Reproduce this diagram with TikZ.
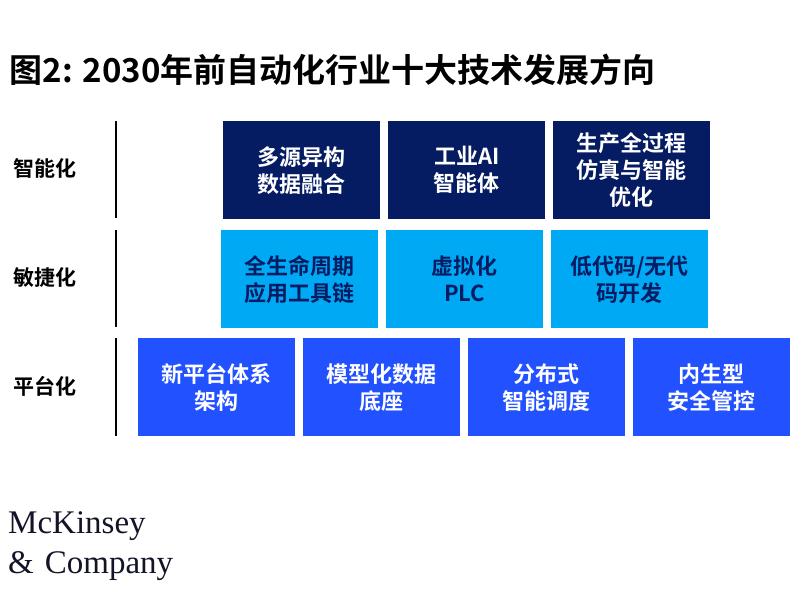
\documentclass[tikz,border=0pt]{standalone}
\usepackage{fontspec}
\setmainfont{Liberation Serif}
\newfontfamily\cjk{Noto Sans CJK SC}[BoldFont={Noto Sans CJK SC Bold}]
\begin{document}
\begin{tikzpicture}[x=1pt,y=-1pt,
  box/.style={minimum width=157pt,minimum height=98pt,inner sep=0pt,anchor=north west,align=center,font=\cjk\bfseries\fontsize{22}{27}\selectfont},
  navy/.style={box,fill={rgb,255:red,5;green,28;blue,99},text=white},
  sky/.style={box,fill={rgb,255:red,0;green,169;blue,244},text={rgb,255:red,5;green,28;blue,99}},
  blu/.style={box,fill={rgb,255:red,34;green,81;blue,255},text=white},
  lab/.style={font=\cjk\bfseries\fontsize{21}{25}\selectfont,anchor=west},
  bar/.style={line width=1.5pt,black}]
\useasboundingbox (0,0) rectangle (800,600);
\node[anchor=west,font=\cjk\bfseries\fontsize{33}{38}\selectfont] (title) at (6,70) {图2: 2030年前自动化行业十大技术发展方向};
\coordinate (a1) at (116,121); \coordinate (a2) at (116,218);
\coordinate (b1) at (116,230); \coordinate (b2) at (116,327);
\coordinate (c1) at (116,338); \coordinate (c2) at (116,436);
\draw[bar] (a1)--(a2); \draw[bar] (b1)--(b2); \draw[bar] (c1)--(c2);
\node[lab] (l1) at (10,168) {智能化};
\node[lab] (l2) at (10,278) {敏捷化};
\node[lab] (l3) at (10,386) {平台化};
\node[navy] (n1) at (223,121) {多源异构\\数据融合};
\node[navy] (n2) at (388,121) {工业AI\\智能体};
\node[navy] (n3) at (553,121) {生产全过程\\仿真与智能\\优化};
\node[sky] (s1) at (221,230) {全生命周期\\应用工具链};
\node[sky] (s2) at (386,230) {虚拟化\\PLC};
\node[sky] (s3) at (551,230) {低代码/无代\\码开发};
\node[blu] (p1) at (138,338) {新平台体系\\架构};
\node[blu] (p2) at (303,338) {模型化数据\\底座};
\node[blu] (p3) at (468,338) {分布式\\智能调度};
\node[blu] (p4) at (633,338) {内生型\\安全管控};
\node[anchor=west,align=left,font=\fontsize{33}{40}\selectfont,inner sep=0pt,text={rgb,255:red,20;green,20;blue,40}] (logo) at (8,546) {McKinsey\\\&\,\,Company};
\end{tikzpicture}
\end{document}
